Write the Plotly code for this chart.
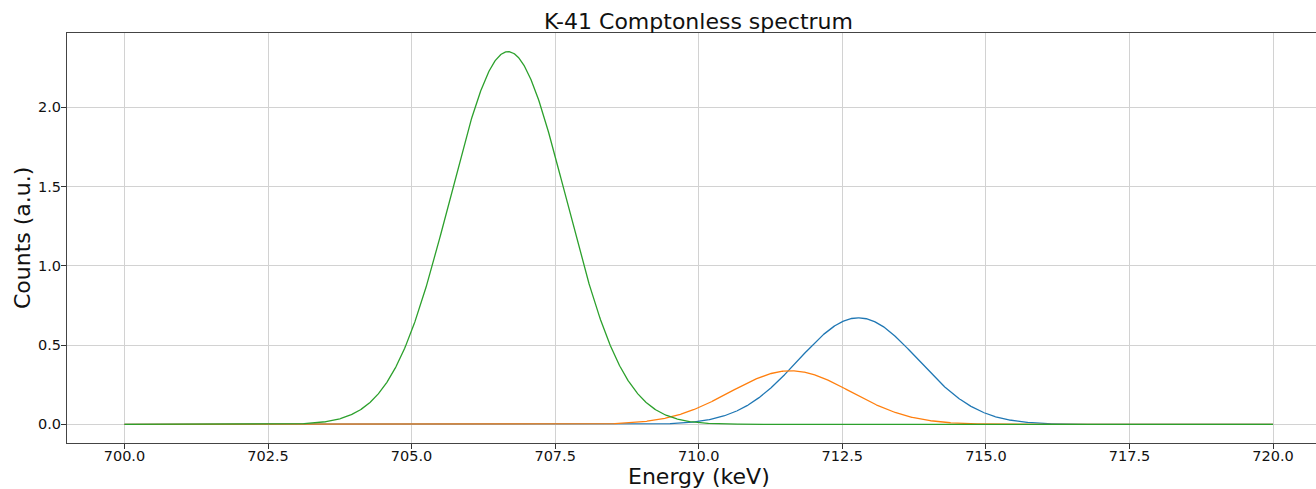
import numpy as np
import plotly.graph_objects as go

# Gaussian peak parameters for the three fitted lines (keV, a.u.)
peak_centres = [712.78, 711.60, 706.68]
peak_heights = [0.672, 0.338, 2.35]
peak_sigmas = [1.04, 1.05, 1.01]
line_colours = ["#1f77b4", "#ff7f0e", "#2ca02c"]

energy_min, energy_max = 700.0, 720.0
x_ticks = [700.0, 702.5, 705.0, 707.5, 710.0, 712.5, 715.0, 717.5, 720.0]
y_ticks = [0.0, 0.5, 1.0, 1.5, 2.0]

energy = np.linspace(energy_min, energy_max, 2001)

font_family = "DejaVu Sans"

fig = go.Figure()
for mu, amp, sig, col in zip(peak_centres, peak_heights, peak_sigmas, line_colours):
    counts = amp * np.exp(-0.5 * ((energy - mu) / sig) ** 2)
    fig.add_trace(go.Scatter(
        x=energy, y=counts, mode="lines",
        line=dict(color=col, width=1.3),
        showlegend=False, hoverinfo="skip",
    ))

W, H = 1316, 489
left, right, top, bottom = 67, 0, 33, 46

fig.update_layout(
    width=W, height=H,
    margin=dict(l=left, r=right, t=top, b=bottom, pad=0),
    paper_bgcolor="white", plot_bgcolor="white",
    font=dict(family=font_family, color="#111111"),
    showlegend=False,
)

fig.update_xaxes(
    range=[699.0, 720.748],
    tickvals=x_ticks, tickformat=".1f",
    tickfont=dict(size=14.5, family=font_family, color="#111111"),
    ticks="outside", ticklen=5, tickwidth=1, tickcolor="#333333",
    ticklabelstandoff=-5,
    showgrid=True, gridcolor="#d2d2d2", gridwidth=1,
    showline=True, linecolor="#444444", linewidth=1, mirror=True,
    zeroline=False,
)
fig.update_yaxes(
    range=[-0.1175, 2.4675],
    tickvals=y_ticks, tickformat=".1f",
    tickfont=dict(size=14.5, family=font_family, color="#111111"),
    ticks="outside", ticklen=5, tickwidth=1, tickcolor="#333333",
    ticklabelstandoff=-3,
    showgrid=True, gridcolor="#d2d2d2", gridwidth=1,
    showline=True, linecolor="#444444", linewidth=1, mirror=False,
    zeroline=False,
)

# Axes extend past the right page edge, so centre texts on the full axes span
axes_centre = (698.5 - left) / (W - left - right)

fig.add_annotation(
    text="K-41 Comptonless spectrum", xref="paper", yref="paper",
    x=axes_centre, y=1.0, yshift=12, xanchor="center", yanchor="middle",
    showarrow=False, font=dict(size=22, family=font_family, color="#111111"),
)
fig.add_annotation(
    text="Energy (keV)", xref="paper", yref="paper",
    x=axes_centre, y=0.0, yshift=-33, xanchor="center", yanchor="middle",
    showarrow=False, font=dict(size=22, family=font_family, color="#111111"),
)
fig.add_annotation(
    text="Counts (a.u.)", xref="paper", yref="paper",
    x=0.0, xshift=-45, y=0.5, xanchor="center", yanchor="middle", textangle=-90,
    showarrow=False, font=dict(size=22, family=font_family, color="#111111"),
)

fig.write_html("out.html")
